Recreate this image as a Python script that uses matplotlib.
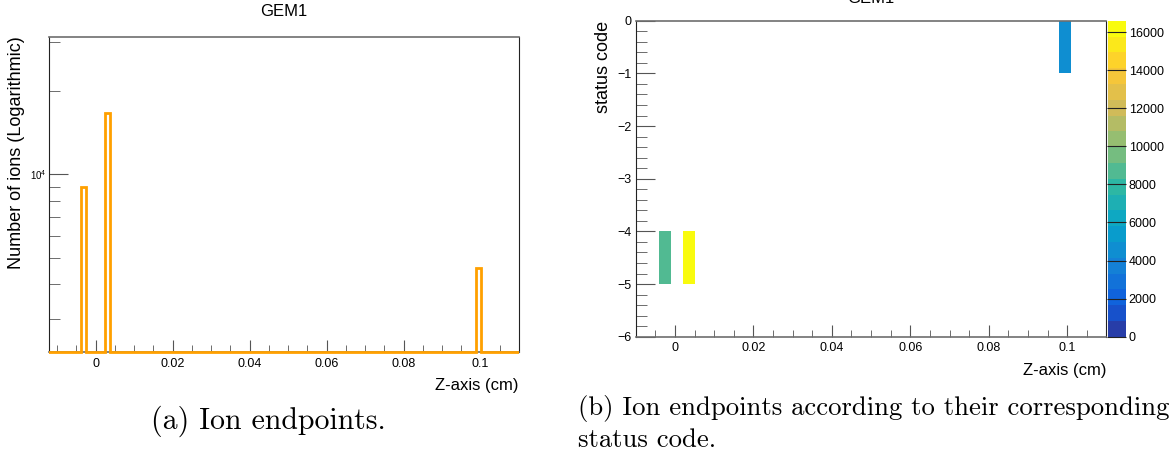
import numpy as np
import matplotlib
matplotlib.use("Agg")
import matplotlib.pyplot as plt
from matplotlib.colors import LinearSegmentedColormap, ListedColormap
from matplotlib.ticker import MultipleLocator, FuncFormatter, LogLocator, NullFormatter
from matplotlib.transforms import Bbox, TransformedBbox

plt.rcParams['font.family'] = ['Liberation Sans', 'DejaVu Sans']

# ion endpoints: z position (cm), status code, number of ions
end_z = [-0.003, 0.003, 0.0995]
end_status = [-5, -5, -1]
end_counts = [9000, 16600, 4580]

# histogram binning (as in the ROOT histograms)
z_bins_1d = np.linspace(-0.0125, 0.1125, 101)
z_bins_2d = np.linspace(-0.01, 0.11, 41)
status_bins = np.arange(-6, 1, 1)

cbar_ticks = [0, 2000, 4000, 6000, 8000, 10000, 12000, 14000, 16000]

# ROOT kBird palette, 20 contour levels
bird_stops = [0.0, 0.125, 0.25, 0.375, 0.5, 0.625, 0.75, 0.875, 1.0]
bird_r = [0.2082, 0.0592, 0.0780, 0.0232, 0.1802, 0.5301, 0.8186, 0.9956, 0.9764]
bird_g = [0.1664, 0.3599, 0.5041, 0.6419, 0.7178, 0.7492, 0.7328, 0.7862, 0.9832]
bird_b = [0.5293, 0.8684, 0.8385, 0.7914, 0.6425, 0.4662, 0.3499, 0.1968, 0.0539]
bird = LinearSegmentedColormap.from_list(
    'bird', list(zip(bird_stops, zip(bird_r, bird_g, bird_b))))
bird20 = ListedColormap(bird((np.arange(20) + 0.99) / 20))

orange = '#FFA000'
frame = '#6e6e6e'
tick_c = '#555555'

fig = plt.figure(figsize=(11.75, 4.57), dpi=100)

# ---------------- (a) 1D histogram, log scale ----------------
ax1 = fig.add_axes([0.042, 0.2298, 0.3997, 0.690])
counts, _ = np.histogram(end_z, bins=z_bins_1d, weights=end_counts)
ymin, ymax = 2280, 31400
st = ax1.stairs(np.clip(counts, ymin, None), z_bins_1d, baseline=ymin,
                color=orange, lw=2.0, zorder=3)
# let the empty bins show along the bottom frame, as ROOT does
st.set_clip_box(TransformedBbox(Bbox([[0, -0.02], [1, 1]]), ax1.transAxes))
ax1.set_yscale('log')
ax1.set_ylim(ymin, ymax)
ax1.set_xlim(-0.012, 0.11)
ax1.yaxis.set_major_locator(LogLocator(base=10, subs=[1.0]))
ax1.yaxis.set_minor_locator(LogLocator(base=10, subs=np.arange(2, 10)))
ax1.yaxis.set_minor_formatter(NullFormatter())
ax1.tick_params(axis='y', which='major', labelsize=7, length=14, direction='in', color=tick_c, pad=2)
ax1.tick_params(axis='y', which='minor', length=8, direction='in', color=tick_c)
ax1.set_title('GEM1', fontsize=12, pad=15)
ax1.set_ylabel('Number of ions (Logarithmic)', fontsize=13, loc='top')
ax1.yaxis.set_label_coords(-0.052, 1.0)
ax1.set_xlabel('Z-axis (cm)', fontsize=12, loc='right', labelpad=6)

# ---------------- (b) 2D histogram ----------------
ax2 = fig.add_axes([0.541, 0.2632, 0.4007, 0.6915])
h2, xe, ye = np.histogram2d(end_z, end_status, bins=[z_bins_2d, status_bins],
                            weights=end_counts)
h2 = np.ma.masked_equal(h2, 0)
mesh = ax2.pcolormesh(xe, ye, h2.T, cmap=bird20, vmin=0, vmax=max(end_counts))
ax2.set_xlim(-0.01, 0.11)
ax2.set_ylim(-6, 0)
ax2.yaxis.set_major_locator(MultipleLocator(1))
ax2.yaxis.set_minor_locator(MultipleLocator(0.2))
ax2.tick_params(axis='y', which='major', labelsize=9, length=14, direction='in', color=tick_c, pad=3)
ax2.tick_params(axis='y', which='minor', length=8, direction='in', color=tick_c)
ax2.set_ylabel('status code', fontsize=13, loc='top', labelpad=4)
ax2.set_xlabel('Z-axis (cm)', fontsize=12, loc='right', labelpad=6)

for ax in (ax1, ax2):
    ax.xaxis.set_major_locator(MultipleLocator(0.02))
    ax.xaxis.set_minor_locator(MultipleLocator(0.005))
    ax.xaxis.set_major_formatter(FuncFormatter(lambda v, p: '%g' % round(v, 4)))
    ax.tick_params(axis='x', which='major', labelsize=9, length=9, direction='in', color=tick_c, pad=4)
    ax.tick_params(axis='x', which='minor', length=5, direction='in', color=tick_c)
    for s in ('top', 'bottom'):
        ax.spines[s].set_color(frame)
        ax.spines[s].set_linewidth(1.2)
    ax.spines['left'].set_color('#222222')
    ax.spines['right'].set_color('#222222')

cax = fig.add_axes([0.943, 0.2632, 0.0153, 0.6915])
cb = fig.colorbar(mesh, cax=cax, ticks=cbar_ticks)
cb.outline.set_visible(False)
cax.tick_params(labelsize=9, length=14, direction='in', color='#222222', pad=2)

# cut-off title of the second panel
fig.text(0.741, 1 - 3 / 457, 'GEM1', ha='center', va='baseline', fontsize=12)

# captions
fig.text(0.228, 0.078, '(a) Ion endpoints.', ha='center', va='center',
         fontsize=21.5, family='cmr10')
fig.text(0.492, 0.107, '(b) Ion endpoints according to their corresponding',
         ha='left', va='center', fontsize=19.2, family='cmr10')
fig.text(0.492, 0.037, 'status code.', ha='left', va='center',
         fontsize=19.2, family='cmr10')

fig.savefig('out.png', dpi=100)
